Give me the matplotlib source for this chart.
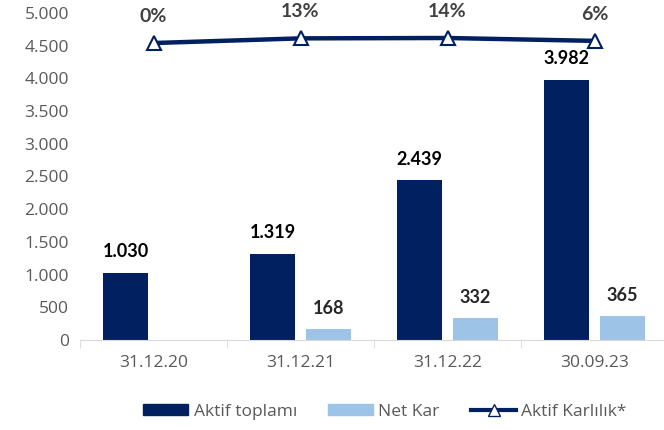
import matplotlib
matplotlib.use("Agg")
import matplotlib.pyplot as plt
import numpy as np
from matplotlib.lines import Line2D
from matplotlib.patches import Patch

categories = ["31.12.20", "31.12.21", "31.12.22", "30.09.23"]
aktif_toplami = [1030, 1319, 2439, 3982]
net_kar = [None, 168, 332, 365]
aktif_karlilik = [0, 13, 14, 6]
yticks = [0, 500, 1000, 1500, 2000, 2500, 3000, 3500, 4000, 4500, 5000]

def fmt(v):
    return f"{v:,}".replace(",", ".")

plt.rcParams['font.family'] = ['Open Sans', 'DejaVu Sans']

navy = "#002060"
light = "#9dc3e6"
gray = "#595959"

fig = plt.figure(figsize=(6.64, 4.30), dpi=100)
ax = fig.add_axes([80/664, 90/430, 588/664, 327/430])
x = np.arange(len(categories))
w = 0.305
off = 0.19
ax.bar(x - off, aktif_toplami, width=w, color=navy, zorder=2)
nk_x = [xi + off for xi, v in zip(x, net_kar) if v is not None]
nk_v = [v for v in net_kar if v is not None]
ax.bar(nk_x, nk_v, width=w, color=light, zorder=2)

for xi, v in zip(x, aktif_toplami):
    ax.annotate(fmt(v), (xi - off, v), xytext=(0, 9), textcoords="offset points",
                ha="center", va="bottom", fontsize=13, fontweight="bold", color="black",
                family=["Lato", "DejaVu Sans"])
for xi, v in zip(nk_x, nk_v):
    ax.annotate(fmt(v), (xi, v), xytext=(0, 9), textcoords="offset points",
                ha="center", va="bottom", fontsize=13, fontweight="bold", color="#262626",
                family=["Lato", "DejaVu Sans"])

ax.set_ylim(0, 5000)
ax.set_xlim(-0.5, 3.5)
ax.set_yticks(yticks)
ax.set_yticklabels([fmt(t) for t in yticks])
ax.set_xticks(x)
ax.set_xticklabels(categories)
ax.tick_params(axis="y", length=0, labelsize=12.5, colors=gray, pad=8)
ax.tick_params(axis="x", length=0, labelsize=12.5, colors=gray, pad=11)
ax.set_xticks(np.arange(-0.5, 3.6, 1), minor=True)
ax.tick_params(axis="x", which="minor", length=6, color="#d9d9d9", direction="out")
for s in ["top", "right", "left"]:
    ax.spines[s].set_visible(False)
ax.spines["bottom"].set_color("#d9d9d9")

ax2 = ax.twinx()
ax2.plot(x, aktif_karlilik, color=navy, lw=3.2, marker="^", markersize=10,
         markerfacecolor="white", markeredgecolor=navy, markeredgewidth=1.5, zorder=3)
ax2.set_ylim(-825.6, 83.5)
ax2.axis("off")
for xi, v in zip(x, aktif_karlilik):
    ax2.annotate(f"{v}%", (xi, v), xytext=(0, 13), textcoords="offset points",
                 ha="center", va="bottom", fontsize=14, fontweight="bold", color="#404040",
                 family=["Lato", "DejaVu Sans"])

handles = [Patch(color=navy), Patch(color=light),
           Line2D([0], [0], color=navy, lw=3, marker="^", markersize=8,
                  markerfacecolor="white", markeredgecolor=navy)]
labels = ["Aktif toplamı", "Net Kar", "Aktif Karlılık*"]
fig.legend(handles, labels, loc="center", bbox_to_anchor=(385/664, 1 - 412/430),
           ncol=3, frameon=False, fontsize=12.5, labelcolor=gray,
           handlelength=2.6, handleheight=0.6, handletextpad=0.3, columnspacing=1.8)

fig.savefig("out.png", dpi=100)
